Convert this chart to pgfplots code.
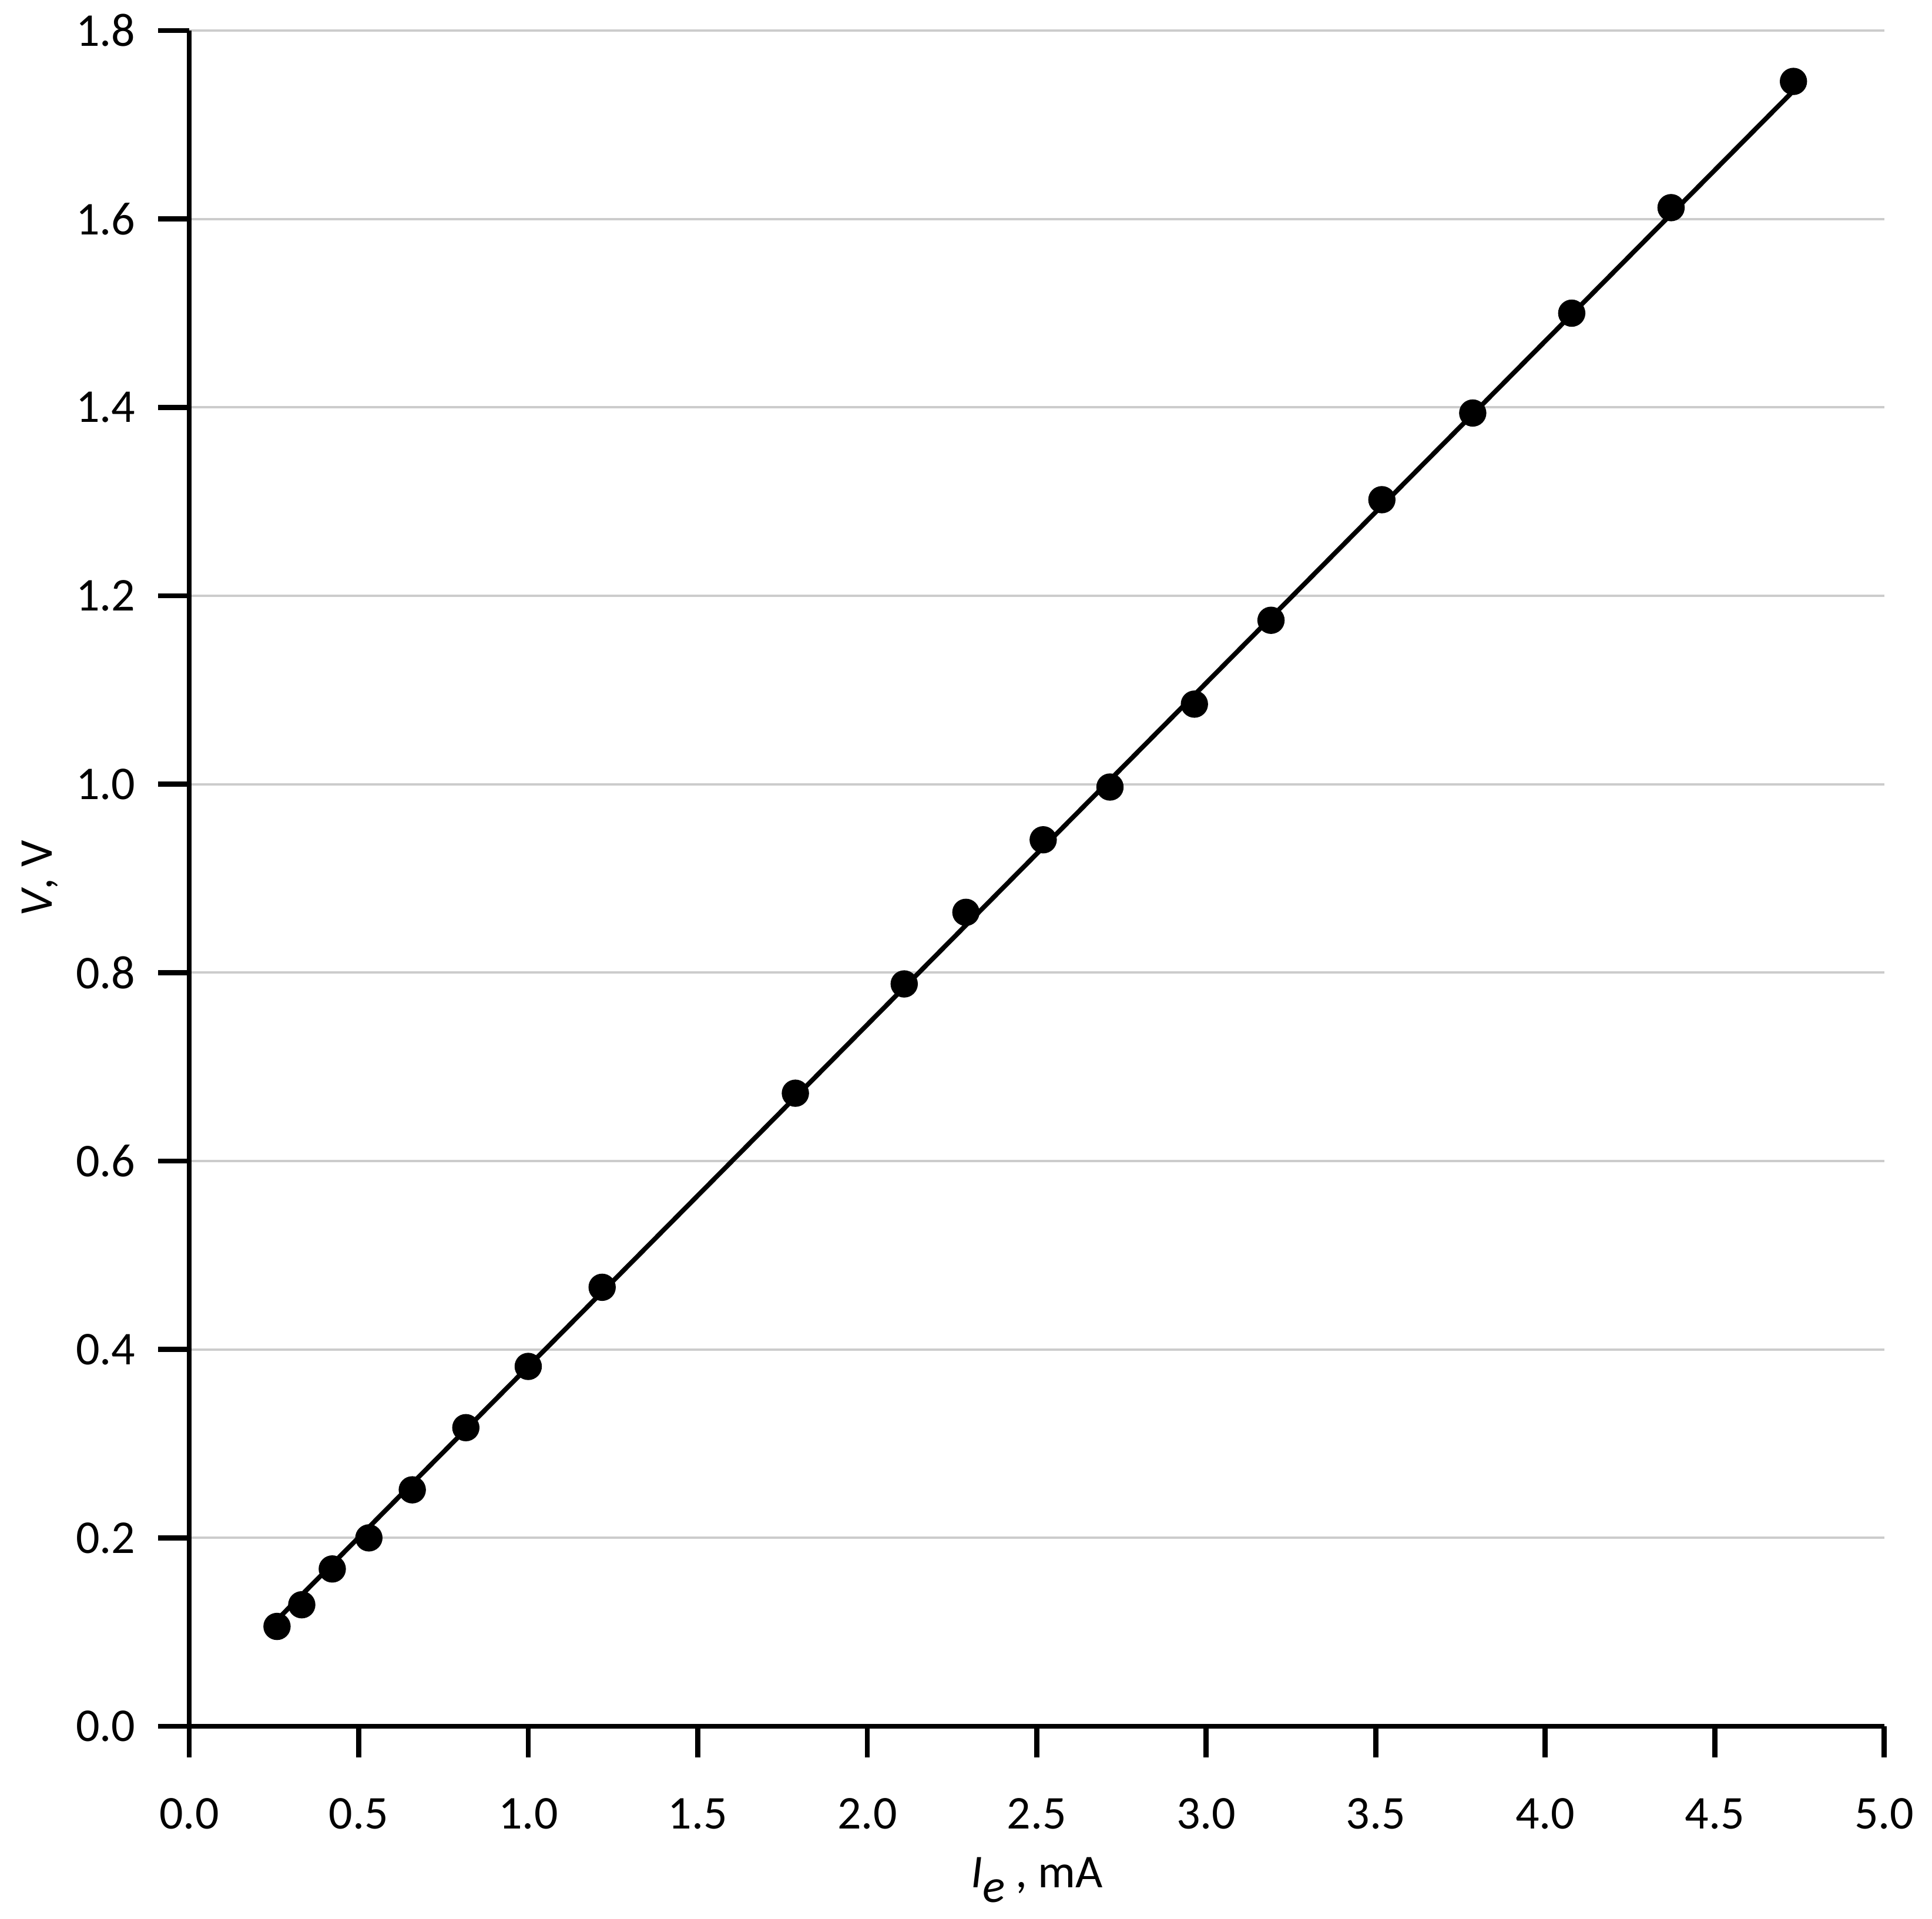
\documentclass[border=0pt]{standalone}
\usepackage{fontspec}
\setmainfont{Carlito}
\usepackage{pgfplots}
\pgfplotsset{compat=1.18}
\pgfplotstableread{
x y
0.259 0.106
0.332 0.129
0.422 0.167
0.530 0.200
0.658 0.251
0.816 0.317
1.000 0.382
1.218 0.466
1.788 0.672
2.109 0.788
2.291 0.864
2.519 0.941
2.716 0.997
2.965 1.085
3.191 1.174
3.518 1.302
3.786 1.394
4.078 1.500
4.371 1.612
4.732 1.746
}\pts
\begin{document}
\begin{tikzpicture}
\useasboundingbox (-40.25pt,-40.875pt) rectangle (370.75pt,367.25pt);
\begin{axis}[
  scale only axis, width=360.6pt, height=360.75pt,
  at={(0,0)}, anchor=south west,
  xmin=0, xmax=5, ymin=0, ymax=1.8,
  axis lines*=left,
  axis line style={line width=1.1pt, -},
  xtick={0,0.5,1,1.5,2,2.5,3,3.5,4,4.5,5},
  ytick={0,0.2,0.4,0.6,0.8,1.0,1.2,1.4,1.6,1.8},
  tick align=outside, major tick length=6.6pt,
  tick style={line width=1.1pt, black},
  ymajorgrids, grid style={line width=0.5pt, color=black!20},
  /pgf/number format/.cd, fixed, fixed zerofill, precision=1, assume math mode=true, /pgfplots/.cd,
  ticklabel style={font=\fontsize{10}{12}\selectfont},
  xticklabel style={yshift=-5.2pt},
  yticklabel style={xshift=-1.3pt},
  xlabel={\textit{I}\raisebox{-3.2pt}{\textit{e}} , mA},
  xlabel style={at={(axis description cs:0.5,-0.09494)}, anchor=base, font=\fontsize{10}{12}\selectfont},
  ylabel={\textit{V}, V},
  ylabel style={at={(axis description cs:-0.0811,0.5)}, anchor=base, font=\fontsize{10}{12}\selectfont},
]
\addplot[black, line width=1pt] coordinates {(0.259,0.113) (4.732,1.736)};
\addplot[only marks, mark=*, mark size=2.7pt, mark options={fill=black, draw=black}] table[x=x, y=y] {\pts};
\end{axis}
\end{tikzpicture}
\end{document}
